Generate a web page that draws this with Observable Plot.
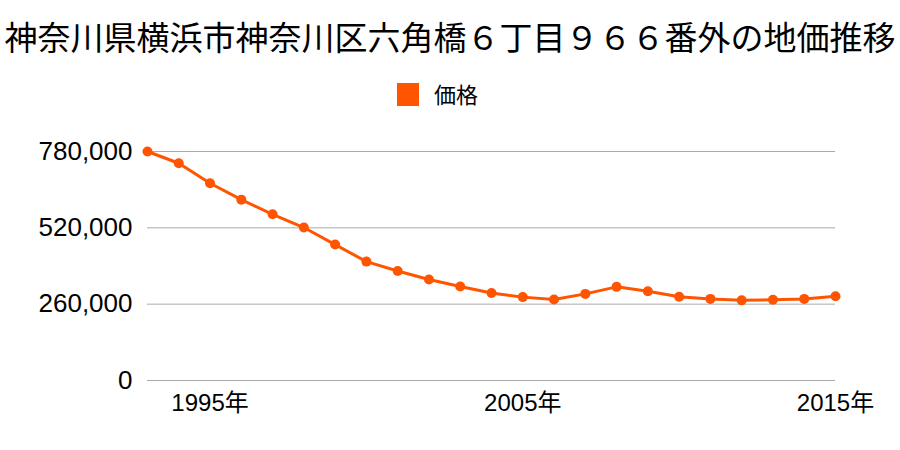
<!DOCTYPE html>
<html>
<head>
<meta charset="utf-8">
<script src="https://cdn.jsdelivr.net/npm/d3@7"></script>
<script src="https://cdn.jsdelivr.net/npm/@observablehq/plot@0.6"></script>
<style>
  html, body { margin: 0; padding: 0; background: #fff; }
  #wrap { position: relative; width: 900px; height: 450px; overflow: hidden; font-family: "Noto Sans CJK JP", "Liberation Sans", sans-serif; }
  #title { position: absolute; left: 0; width: 900px; top: 14px; text-align: center; font-size: 33px; line-height: 44px; color: #000; white-space: nowrap; }
  #legend { position: absolute; left: 397px; top: 83px; height: 23px; display: flex; align-items: center; font-size: 22px; color: #000; }
  #legend .sw { width: 22px; height: 23px; margin-right: 15px; }
  #legend .lab { position: relative; top: -2px; }
  #chart { position: absolute; left: 0; top: 120px; }
</style>
</head>
<body>
<div id="wrap">
  <div id="title"></div>
  <div id="legend"><div class="sw"></div><span class="lab"></span></div>
  <div id="chart"></div>
</div>
<script>
const chartTitle = "神奈川県横浜市神奈川区六角橋６丁目９６６番外の地価推移";
const seriesName = "価格";
const seriesColor = "#ff5500";
const years = [1993,1994,1995,1996,1997,1998,1999,2000,2001,2002,2003,2004,2005,2006,2007,2008,2009,2010,2011,2012,2013,2014,2015];
const prices = [780000,740000,672000,616000,566000,521000,463000,405000,373000,344000,320000,298000,284000,276000,295000,319000,304000,285000,278000,273000,275000,278000,287000];
const yTicks = [0,260000,520000,780000];
const xTicks = [1995,2005,2015];

document.getElementById("title").textContent = chartTitle;
document.querySelector("#legend .sw").style.background = seriesColor;
document.querySelector("#legend .lab").textContent = seriesName;

const data = years.map((y, i) => ({year: y, price: prices[i]}));

const chart = Plot.plot({
  width: 900,
  height: 330,
  marginTop: 31,
  marginBottom: 70,
  marginLeft: 147,
  marginRight: 65,
  style: { fontSize: "22px", fontFamily: "'Liberation Sans', 'Noto Sans CJK JP', sans-serif", color: "#000", background: "transparent" },
  x: { domain: [1993, 2015], label: null },
  y: { domain: [0, 780000], label: null },
  marks: [
    Plot.gridY(yTicks, { stroke: "#aaaaaa", strokeOpacity: 1, strokeWidth: 1 }),
    Plot.axisY(yTicks, { tickSize: 0, tickPadding: 15, tickFormat: d3.format(","), fontSize: 26, fill: "#000" }),
    Plot.axisX(xTicks, { tickSize: 0, tickPadding: 13, tickFormat: d => `${d}年`, fontSize: 24, fill: "#000" }),
    Plot.line(data, { x: "year", y: "price", stroke: seriesColor, strokeWidth: 3 }),
    Plot.dot(data, { x: "year", y: "price", fill: seriesColor, r: 5 })
  ]
});
document.getElementById("chart").appendChild(chart);
</script>
</body>
</html>
